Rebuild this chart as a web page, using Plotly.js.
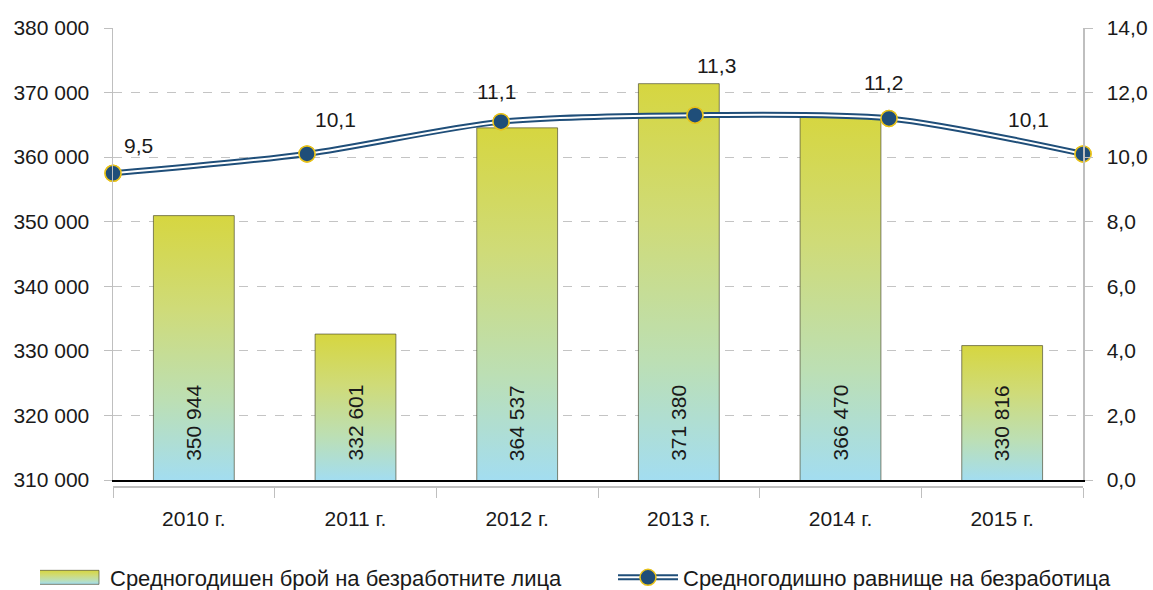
<!DOCTYPE html>
<html>
<head>
<meta charset="utf-8">
<script src="https://cdn.plot.ly/plotly-3.0.1.min.js"></script>
<style>
  html, body { margin: 0; padding: 0; background: #fff; }
  #chart { width: 1153px; height: 590px; }
</style>
</head>
<body>
<div id="chart"></div>
<script>
const categories = ['2010 г.', '2011 г.', '2012 г.', '2013 г.', '2014 г.', '2015 г.'];
const unemployedCount = [350944, 332601, 364537, 371380, 366470, 330816];
const unemploymentRate = [9.5, 10.1, 11.1, 11.3, 11.2, 10.1];
const seriesNames = ['Средногодишен брой на безработните лица', 'Средногодишно равнище на безработица'];
const leftRange = [310000, 380000];
const rightRange = [0, 14];

// label placement offsets (pixels) for the line's data labels
const labelOffsetX = [25, 28, -5, 21, -6, -55];
const labelOffsetY = [28, 34, 30, 50, 36, 34];

const FONT = '"Liberation Sans", Arial, sans-serif';
const NAVY = '#1f4e79';
const GOLD = '#e8c21a';
const TEXT = '#1a1a1a';

function fmtThousands(v) {
  return String(v).replace(/\B(?=(\d{3})+(?!\d))/g, ' ');
}
function fmtDecimal(v) {
  return v.toFixed(1).replace('.', ',');
}

const barTrace = {
  type: 'bar',
  name: seriesNames[0],
  legend: 'legend',
  x: categories,
  y: unemployedCount,
  xaxis: 'x',
  yaxis: 'y',
  width: 0.5,
  marker: { color: '#cfdb86', line: { color: 'rgba(70,70,45,0.65)', width: 1 } },
  hoverinfo: 'x+y'
};

const lineOuter = {
  type: 'scatter',
  mode: 'lines+markers',
  name: seriesNames[1],
  legend: 'legend2',
  x: categories,
  y: unemploymentRate,
  xaxis: 'x2',
  yaxis: 'y2',
  line: { color: NAVY, width: 6, shape: 'spline', smoothing: 0.8 },
  marker: { size: 16, color: NAVY, line: { color: GOLD, width: 1.5 } },
  cliponaxis: false
};

const lineInner = {
  type: 'scatter',
  mode: 'lines',
  x: categories,
  y: unemploymentRate,
  xaxis: 'x2',
  yaxis: 'y2',
  line: { color: '#ffffff', width: 2, shape: 'spline', smoothing: 0.8 },
  showlegend: false,
  hoverinfo: 'skip',
  cliponaxis: false
};

const lineMarkers = {
  type: 'scatter',
  mode: 'markers',
  x: categories,
  y: unemploymentRate,
  xaxis: 'x2',
  yaxis: 'y2',
  marker: { size: 16, color: NAVY, line: { color: GOLD, width: 1.5 } },
  showlegend: false,
  cliponaxis: false
};

const domBottom = 6 / 458;

const barAnnotations = categories.map((c, i) => ({
  x: c,
  xref: 'x',
  y: 0.1376,
  yref: 'paper',
  yanchor: 'middle',
  xanchor: 'center',
  text: fmtThousands(unemployedCount[i]),
  textangle: -90,
  showarrow: false,
  font: { family: FONT, size: 21, color: TEXT }
}));

const lineAnnotations = categories.map((c, i) => ({
  x: c,
  xref: 'x2',
  y: unemploymentRate[i],
  yref: 'y2',
  xanchor: 'center',
  yanchor: 'middle',
  xshift: labelOffsetX[i],
  yshift: labelOffsetY[i],
  text: fmtDecimal(unemploymentRate[i]),
  showarrow: false,
  font: { family: FONT, size: 21, color: TEXT }
}));

const legendCommon = {
  orientation: 'h',
  xref: 'container',
  xanchor: 'left',
  yref: 'paper',
  y: -0.154,
  yanchor: 'top',
  font: { family: FONT, size: 22, color: TEXT },
  itemwidth: 60,
  bgcolor: 'rgba(0,0,0,0)',
  borderwidth: 0
};

const layout = {
  width: 1153,
  height: 590,
  margin: { l: 113, r: 70, t: 28, b: 104, autoexpand: false },
  paper_bgcolor: '#ffffff',
  plot_bgcolor: '#ffffff',
  separators: ', ',
  font: { family: FONT, size: 21, color: TEXT },
  showlegend: true,
  xaxis: {
    type: 'category',
    range: [-0.5, 5.5],
    anchor: 'free',
    position: 0,
    showline: true,
    linecolor: '#bfbfbf',
    linewidth: 1.5,
    ticks: 'outside',
    ticklen: 10,
    tickcolor: '#bfbfbf',
    tickwidth: 1,
    tickson: 'boundaries',
    tickangle: 0,
    automargin: false,
    showgrid: false,
    ticklabelstandoff: 13,
    tickfont: { family: FONT, size: 21, color: TEXT }
  },
  xaxis2: {
    type: 'category',
    overlaying: 'x',
    anchor: 'y',
    side: 'bottom',
    range: [0, 5],
    showticklabels: false,
    ticks: '',
    showgrid: false,
    showline: true,
    linecolor: '#000000',
    linewidth: 1.5,
    zeroline: false
  },
  yaxis: {
    domain: [domBottom, 1],
    range: leftRange,
    dtick: 10000,
    tickformat: ',d',
    showline: true,
    linecolor: '#bfbfbf',
    linewidth: 1.5,
    ticks: 'outside',
    ticklen: 8,
    tickcolor: '#bfbfbf',
    ticklabelstandoff: 10,
    automargin: false,
    showgrid: true,
    gridcolor: '#c4c4c4',
    griddash: 'dash',
    gridwidth: 1,
    zeroline: false,
    tickfont: { family: FONT, size: 21, color: TEXT }
  },
  yaxis2: {
    domain: [domBottom, 1],
    overlaying: 'y',
    side: 'right',
    range: rightRange,
    dtick: 2,
    tickformat: '.1f',
    showline: true,
    linecolor: '#bfbfbf',
    linewidth: 1.5,
    ticks: 'outside',
    ticklen: 8,
    tickcolor: '#bfbfbf',
    ticklabelstandoff: 10,
    automargin: false,
    showgrid: false,
    zeroline: false,
    tickfont: { family: FONT, size: 21, color: TEXT }
  },
  legend: Object.assign({}, legendCommon, { x: 40 / 1153 }),
  legend2: Object.assign({}, legendCommon, { x: 613 / 1153 }),
  annotations: barAnnotations.concat(lineAnnotations)
};

const SVGNS = 'http://www.w3.org/2000/svg';
function makeGradient(defs, id, units, y1, y2) {
  const g = document.createElementNS(SVGNS, 'linearGradient');
  g.setAttribute('id', id);
  g.setAttribute('x1', '0'); g.setAttribute('x2', '0');
  g.setAttribute('y1', String(y1)); g.setAttribute('y2', String(y2));
  g.setAttribute('gradientUnits', units);
  const stops = [[0, '#d6d640'], [0.35, '#cfdb78'], [0.7, '#bcdfb4'], [1, '#a3ddf0']];
  stops.forEach(([o, c]) => {
    const s = document.createElementNS(SVGNS, 'stop');
    s.setAttribute('offset', String(o));
    s.setAttribute('stop-color', c);
    g.appendChild(s);
  });
  defs.appendChild(g);
}

Plotly.newPlot('chart', [barTrace, lineOuter, lineInner, lineMarkers], layout, { displayModeBar: false, staticPlot: true }).then(gd => {
  const svg = gd.querySelector('.main-svg');
  let defs = svg.querySelector('defs');
  if (!defs) { defs = document.createElementNS(SVGNS, 'defs'); svg.insertBefore(defs, svg.firstChild); }
  const plotH = gd._fullLayout.yaxis._length;
  gd.querySelectorAll('.barlayer .point path').forEach((p, i) => {
    const bb = p.getBBox();
    const top = Math.max(bb.y, 0);
    const bottom = Math.min(bb.y + bb.height, plotH);
    const id = 'barGrad' + i;
    makeGradient(defs, id, 'userSpaceOnUse', top, bottom);
    p.style.fill = 'url(#' + id + ')';
  });
  makeGradient(defs, 'legendGrad', 'objectBoundingBox', 0, 1);
  const barLegend = gd.querySelector('.legend .traces');
  if (barLegend) {
    barLegend.querySelectorAll('.legendpoints path').forEach(p => {
      p.setAttribute('d', 'M24,7H-36V-7H24Z');
      p.style.fill = 'url(#legendGrad)';
    });
  }
  // double line look for the line legend symbol
  gd.querySelectorAll('.legend2 .legendlines path, .legend2 .js-line').forEach(p => {
    if (p.dataset.doubled) return;
    const c = p.cloneNode(true);
    c.dataset.doubled = '1';
    p.dataset.doubled = '1';
    c.style.stroke = '#ffffff';
    c.style.strokeWidth = '2px';
    p.parentNode.insertBefore(c, p.nextSibling);
  });
});
</script>
</body>
</html>
